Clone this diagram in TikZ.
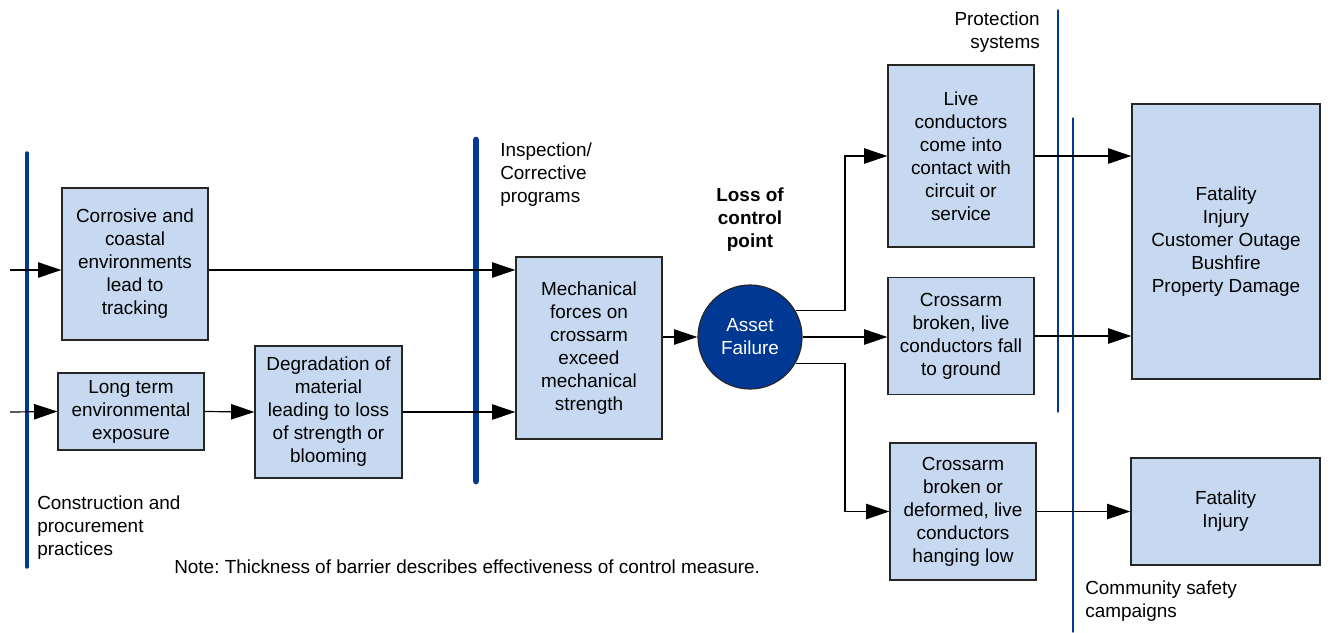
\documentclass[tikz,border=0pt]{standalone}
\usepackage{fontspec}
\setmainfont{Liberation Sans}
\usetikzlibrary{arrows.meta}
\definecolor{boxblue}{RGB}{198,217,240}
\definecolor{barblue}{RGB}{0,56,147}
\newcommand{\dfont}{\fontsize{14.2}{17.25}\selectfont}
\frenchspacing

\begin{document}
\begin{tikzpicture}[x=0.75pt,y=-0.75pt]
      \tikzset{
        every node/.style={font=\dfont,align=center,inner sep=0pt},
        box/.style={draw=black!85,line width=0.9pt,fill=boxblue,minimum width=109.5pt},
        arr/.style={line width=0.9pt,-{Triangle[length=17.5pt,width=11.5pt]}},
        barrier/.style={draw=barblue,line cap=round}
      }
      \useasboundingbox (0,0) rectangle (1333,632);

      % barriers
      \draw[barrier,line width=2.6pt] (27,153) -- (27,567);
      \draw[barrier,line width=5pt] (476,140) -- (476,481);
      \draw[barrier,line width=1pt] (1058,10) -- (1058,412);
      \draw[barrier,line width=1pt] (1073,118) -- (1073,632);

      % boxes
      \node[box,minimum height=114pt] (corr) at (135,264) {Corrosive and\\coastal\\environments\\lead to\\tracking};
      \node[box,minimum height=57.75pt] (lte) at (131,411.5) {Long term\\environmental\\exposure};
      \node[box,minimum width=110.25pt,minimum height=99pt] (degr) at (328.5,412) {Degradation of\\material\\leading to loss\\of strength or\\blooming};
      \node[box,minimum height=136.5pt] (mech) at (589,348) {Mechanical\\forces on\\crossarm\\exceed\\mechanical\\strength};
      \node[circle,draw=black!85,line width=0.9pt,fill=barblue,text=white,minimum size=78pt] (af) at (750,337) {Asset\\Failure};
      \node[box,minimum height=136.5pt] (live) at (961,156) {Live\\conductors\\come into\\contact with\\circuit or\\service};
      \node[box,minimum height=87.75pt] (crl) at (961,336) {Crossarm\\broken, live\\conductors fall\\to ground};
      \node[box,minimum height=102.75pt] (cdef) at (963,511.5) {Crossarm\\broken or\\deformed, live\\conductors\\hanging low};
      \node[box,minimum width=141pt,minimum height=206.25pt] (fat) at (1226,241.5) {Fatality\\Injury\\Customer Outage\\Bushfire\\Property Damage};
      \node[box,minimum width=141.75pt,minimum height=80.25pt] (fatinj) at (1225.5,511.5) {Fatality\\Injury};

      % labels
      \node[anchor=west,align=left] (lcons) at (37,528) {Construction and\\procurement\\practices};
      \node[anchor=west,align=left] (linsp) at (500,175) {Inspection/\\Corrective\\programs};
      \node[font=\dfont\bfseries] (lloss) at (750,220) {Loss of\\control\\point};
      \node[anchor=east,align=right] (lprot) at (1040,32.5) {Protection\\systems};
      \node[anchor=west,align=left] (lcomm) at (1085,601.5) {Community safety\\campaigns};
      \node[anchor=west] (lnote) at (174,567) {Note: Thickness of barrier describes effectiveness of control measure.};

      \coordinate (in1) at (10,270);
      \coordinate (in2) at (10,412);
      \coordinate (sp) at (845,0);

      \draw[arr] (in1) -- (in1 -| corr.west);
      \draw[arr] (in1 -| corr.east) -- (in1 -| mech.west);
      \draw[arr] (in2) -- (lte.west);
      \draw[arr] (lte.east) -- (degr.west);
      \draw[arr] (degr.east) -- (degr.east -| mech.west);
      \draw[arr] (mech.east |- af) -- (af);
      \draw[arr] (af.30) -- (af.30 -| sp) |- (live.west);
      \draw[arr] (af.east) -- (af.east -| crl.west);
      \draw[arr] (af.-30) -- (af.-30 -| sp) |- (cdef.west);
      \draw[arr] (live.east) -- (live.east -| fat.west);
      \draw[arr] (crl.east) -- (crl.east -| fat.west);
      \draw[arr] (cdef.east) -- (cdef.east -| fatinj.west);
    \end{tikzpicture}
\end{document}
